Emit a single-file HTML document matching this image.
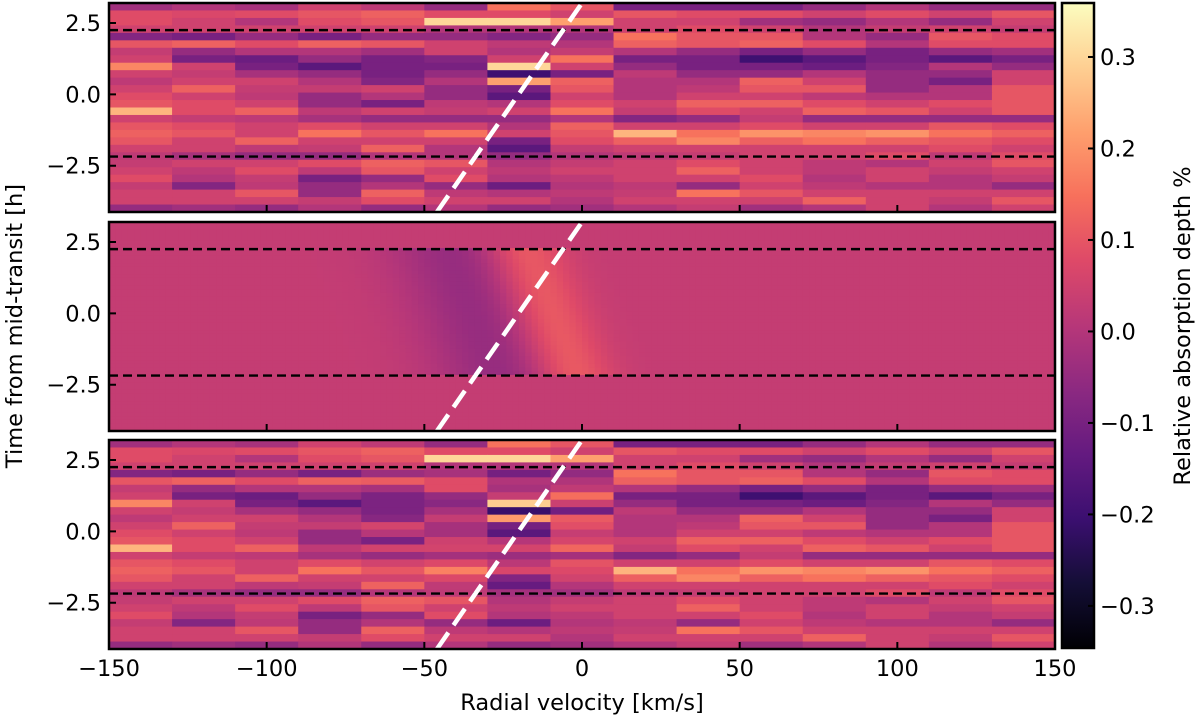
<!DOCTYPE html>
<html><head><meta charset="utf-8"><style>
html,body{margin:0;padding:0;background:#fff;}
svg{display:block;font-family:"DejaVu Sans","Liberation Sans",sans-serif;}
</style></head><body>
<svg id="chart" width="1200" height="719" viewBox="0 0 1200 719" xmlns="http://www.w3.org/2000/svg">
<defs>
<linearGradient id="cmap" x1="0" y1="1" x2="0" y2="0">
<stop offset="0" stop-color="#000004"/><stop offset="0.1" stop-color="#140e36"/><stop offset="0.2" stop-color="#3b0f70"/><stop offset="0.3" stop-color="#641a80"/><stop offset="0.4" stop-color="#8c2981"/><stop offset="0.5" stop-color="#b73779"/><stop offset="0.6" stop-color="#de4968"/><stop offset="0.7" stop-color="#f7705c"/><stop offset="0.8" stop-color="#fe9f6d"/><stop offset="0.9" stop-color="#fecf92"/><stop offset="1" stop-color="#fcfdbf"/>
</linearGradient>
</defs>
<g id="layer"></g>
</svg>
<script>
// ---- data ----
const xTicks = [-150, -100, -50, 0, 50, 100, 150];
const xTickLabels = ["\u2212150", "\u2212100", "\u221250", "0", "50", "100", "150"];
const yTicks = [2.5, 0.0, -2.5];
const yTickLabels = ["2.5", "0.0", "\u22122.5"];
const cbTicks = [0.3, 0.2, 0.1, 0.0, -0.1, -0.2, -0.3];
const cbTickLabels = ["0.3", "0.2", "0.1", "0.0", "\u22120.1", "\u22120.2", "\u22120.3"];
const transitLines = [2.25, -2.18];
const planetTrackV = [-46, 0];
const planetTrackT = [-4.12, 3.2];
// observed residuals: 28 time rows (top to bottom) x 15 velocity bins of 20 km/s
const obsRows = [
[-0.03,0,-0.02,0.05,0.02,-0.05,0.15,0.1,-0.1,-0.1,-0.1,-0.05,0.0,-0.05,-0.05],
[0.08,0.07,0.08,0.1,0.12,0.08,0.08,0.05,0.1,0.08,0.08,0.05,0.08,0.05,0.1],
[0.08,0.05,0.0,0.08,0.1,0.3,0.3,0.22,0.05,0.05,-0.03,-0.05,0.0,-0.05,0.05],
[0.05,0.05,0.05,0.05,0.05,0.0,0.0,0.0,0.05,0.08,0.05,0.0,0.03,0.05,0.03],
[-0.08,-0.1,-0.05,-0.1,-0.05,-0.05,-0.08,-0.05,0.15,0.1,0.1,0.0,-0.05,0.1,0.08],
[0.1,0.12,0.08,0.12,0.1,0.05,0.02,0.0,0.12,0.1,0.12,0.08,0.0,0.08,0.08],
[0.03,-0.05,0.0,0.0,-0.03,0.05,0.0,0.03,0.0,-0.05,-0.1,-0.05,-0.1,-0.05,-0.03],
[0.05,-0.1,-0.12,-0.05,-0.1,-0.08,0.05,0.15,-0.1,-0.1,-0.2,-0.15,-0.1,-0.15,-0.1],
[0.18,0.05,-0.1,-0.15,-0.1,-0.1,0.3,0.05,-0.05,-0.1,-0.1,-0.12,-0.08,0.0,-0.05],
[0.05,0.03,-0.02,-0.05,-0.1,-0.05,-0.2,-0.1,0.02,-0.05,-0.05,0.0,-0.05,-0.05,0.05],
[0.02,0.05,0.05,0.0,-0.08,0.0,0.22,0.12,0.0,0.0,0.12,0.05,-0.05,-0.1,0.05],
[0.05,0.12,0.03,0.03,0.05,-0.05,-0.1,0.1,0.0,0.02,0.1,0.1,-0.05,0.0,0.1],
[0.08,0.05,0.02,-0.05,0.0,-0.05,-0.15,0.05,0.0,0.05,0.05,0.02,0.0,0.0,0.1],
[0.1,0.08,0.05,-0.05,-0.1,0.02,0.0,0.08,0.05,0.12,0.12,0.08,0.05,0.08,0.1],
[0.25,0.08,0.12,0.02,0.05,0.03,0.05,0.15,0.03,0.08,0.05,0.12,0.1,0.05,0.1],
[0.05,0.03,0.02,-0.02,-0.05,-0.05,-0.05,0.0,-0.08,-0.05,0.03,-0.05,-0.05,-0.05,-0.05],
[0.1,0.08,0.05,0.08,0.05,0.05,0.0,0.12,0.05,0.05,0.08,0.05,0.05,0.1,0.08],
[0.12,0.1,0.05,0.15,0.1,0.15,0.05,0.1,0.25,0.15,0.2,0.18,0.2,0.15,0.12],
[0.1,0.05,0.12,0.05,0.05,0.05,-0.1,0.08,0.12,0.18,0.12,0.15,0.12,0.1,0.08],
[0.05,0.05,0.02,0.03,0.12,0.0,-0.15,0.03,0.05,0.05,0.05,0.05,0.05,0.08,0.05],
[0.02,-0.02,-0.05,-0.05,0.0,0.0,-0.05,0.0,0.02,0.03,0.05,0.05,0.08,0.02,0.08],
[0.03,0.05,0.05,0.08,0.12,0.1,0.0,0.03,0.05,0.08,0.05,0.02,0.0,0.05,0.1],
[0.05,0.02,0.08,0.02,0.1,0.05,0.02,0.05,0.05,0.12,0.05,0.02,0.05,0.03,0.05],
[0.08,0.0,0.03,-0.1,-0.05,0.08,0.0,0.02,0.05,0.05,0.08,0.0,0.05,0.0,0.03],
[0.03,-0.08,0.02,-0.05,0.0,-0.05,-0.12,0.0,0.02,-0.05,0.05,0.02,0.0,0.0,-0.05],
[0.05,0.05,0.1,-0.05,0.12,0.02,0.0,0.02,0.03,0.15,0.1,0.05,0.05,0.05,0.05],
[0.05,0.05,0.05,0.03,0.08,0.05,0.05,0.0,0.05,0.05,0.05,0.12,0.05,0.03,0.1],
[-0.05,-0.03,-0.05,0.0,-0.05,0.0,-0.05,-0.03,0.0,0.03,-0.03,0.0,0.05,0.0,0.05]
];
// Doppler shadow model parameters
const modelBase = [0.03];
const shadowBrightV = [-19, -3];
const shadowDarkV = [-40, -25];
const shadowAmp = [0.10, -0.08];
const shadowWidth = [9, 15];

// ---- geometry ----
const X0 = 109, X1 = 1055, VMIN = -150, VMAX = 150;
const panelTops = [3, 222, 440];
const PH = 209, TTOP = 3.2, TBOT = -4.12;
const CB = {x: 1062, w: 32, top: 3, bot: 648, vmin: -0.346, vmax: 0.359};
const FS = 22.5;
const xs = v => X0 + (v - VMIN) / (VMAX - VMIN) * (X1 - X0);
const ys = (p, t) => panelTops[p] + (TTOP - t) / (TTOP - TBOT) * PH;
const cbY = v => CB.bot - (v - CB.vmin) / (CB.vmax - CB.vmin) * (CB.bot - CB.top);

const stops = ["#000004","#140e36","#3b0f70","#641a80","#8c2981","#b73779","#de4968","#f7705c","#fe9f6d","#fecf92","#fcfdbf"];
function hex(h){return [parseInt(h.substr(1,2),16),parseInt(h.substr(3,2),16),parseInt(h.substr(5,2),16)];}
function cmap(v){
  let f = (v - CB.vmin) / (CB.vmax - CB.vmin); f = Math.max(0, Math.min(1, f));
  const s = f * 10, i = Math.min(9, Math.floor(s)), r = s - i;
  const a = hex(stops[i]), b = hex(stops[i+1]);
  return "rgb(" + a.map((c,k)=>Math.round(c + (b[k]-c)*r)).join(",") + ")";
}
function model(v, t){
  let val = modelBase[0];
  if (t <= transitLines[0] && t >= transitLines[1]) {
    const f = (transitLines[0] - t) / (transitLines[0] - transitLines[1]);
    const bv = shadowBrightV[0] + (shadowBrightV[1]-shadowBrightV[0])*f;
    const dv = shadowDarkV[0] + (shadowDarkV[1]-shadowDarkV[0])*f;
    val += shadowAmp[0]*Math.exp(-0.5*((v-bv)/shadowWidth[0])**2) + shadowAmp[1]*Math.exp(-0.5*((v-dv)/shadowWidth[1])**2);
  }
  return val;
}
const NS = "http://www.w3.org/2000/svg";
const layer = document.getElementById("layer");
function el(tag, attrs, parent){
  const e = document.createElementNS(NS, tag);
  for (const k in attrs) e.setAttribute(k, attrs[k]);
  (parent || layer).appendChild(e); return e;
}
const nRows = obsRows.length, nSeg = obsRows[0].length;
const dt = (TTOP - TBOT) / nRows, dv = (VMAX - VMIN) / nSeg;

for (let p = 0; p < 3; p++) {
  const g = el("g", {});
  
  
  el("clipPath", {id: "clip" + p}, g);
  el("rect", {x: X0, y: panelTops[p], width: X1-X0, height: PH}, g.lastChild);
  const cells = el("g", {"clip-path": "url(#clip" + p + ")"}, g);
  if (p === 1) {
    const mr = 56, mc = 150, mdt = (TTOP-TBOT)/mr, mdv = (VMAX-VMIN)/mc;
    for (let r = 0; r < mr; r++) for (let c = 0; c < mc; c++) {
      const t = TTOP - (r+0.5)*mdt, v = VMIN + (c+0.5)*mdv;
      const cell = el("rect", {x: xs(VMIN + c*mdv), y: ys(p, TTOP - r*mdt), width: xs(VMIN+(c+1)*mdv)-xs(VMIN+c*mdv)+0.6, height: ys(p, TTOP-(r+1)*mdt)-ys(p, TTOP-r*mdt)+0.6, fill: cmap(model(v,t))}, cells);
      
      
    }
  } else {
    for (let r = 0; r < nRows; r++) for (let c = 0; c < nSeg; c++) {
      const t = TTOP - (r+0.5)*dt, v = VMIN + (c+0.5)*dv;
      let val = obsRows[r][c];
      if (p === 2) val = val - (model(v,t) - modelBase[0]) * 0.4;
      const cell = el("rect", {x: xs(VMIN + c*dv), y: ys(p, TTOP - r*dt), width: xs(VMIN+(c+1)*dv)-xs(VMIN+c*dv)+0.6, height: ys(p, TTOP-(r+1)*dt)-ys(p, TTOP-r*dt)+0.6, fill: cmap(val)}, cells);
      
      
    }
  }
  transitLines.forEach(t => {
    const l = el("line", {x1: X0, x2: X1, y1: ys(p,t), y2: ys(p,t), stroke: "#000", "stroke-width": 2.4, "stroke-dasharray": "9,5"}, cells);
    
    
  });
  const pl = el("line", {x1: xs(planetTrackV[0]), y1: ys(p, planetTrackT[0]), x2: xs(planetTrackV[1]), y2: ys(p, planetTrackT[1]), stroke: "#fff", "stroke-width": 4.5, "stroke-dasharray": "20,9"}, cells);
  
  
  xTicks.forEach(v => {
    const tk = el("line", {x1: xs(v), x2: xs(v), y1: panelTops[p]+PH, y2: panelTops[p]+PH-7, stroke: "#000", "stroke-width": 2}, g);
    
    
  });
  yTicks.forEach((t, i) => {
    const tk = el("line", {x1: X0, x2: X0+7, y1: ys(p,t), y2: ys(p,t), stroke: "#000", "stroke-width": 2}, g);
    
    
    const tl = el("text", {x: X0-8, y: ys(p,t)+8, "text-anchor": "end", "font-size": FS}, g);
    tl.textContent = yTickLabels[i];
    
    
  });
  const fr = el("rect", {x: X0, y: panelTops[p], width: X1-X0, height: PH, fill: "none", stroke: "#000", "stroke-width": 2.5}, g);
  
  
}
xTicks.forEach((v, i) => {
  const tl = el("text", {x: xs(v), y: 676, "text-anchor": "middle", "font-size": FS});
  tl.textContent = xTickLabels[i];
  
  
});
const xt = el("text", {x: 582, y: 710, "text-anchor": "middle", "font-size": FS});
xt.textContent = "Radial velocity [km/s]";


const yt = el("text", {x: 0, y: 0, "text-anchor": "middle", "font-size": FS, transform: "translate(22,326) rotate(-90)"});
yt.textContent = "Time from mid-transit [h]";


const cbr = el("rect", {x: CB.x, y: CB.top, width: CB.w, height: CB.bot-CB.top, fill: "url(#cmap)", stroke: "#000", "stroke-width": 2.5});


cbTicks.forEach((v, i) => {
  const tk = el("line", {x1: CB.x+CB.w, x2: CB.x+CB.w-6, y1: cbY(v), y2: cbY(v), stroke: "#000", "stroke-width": 2});
  
  
  const tl = el("text", {x: CB.x+CB.w+6, y: cbY(v)+8, "font-size": FS});
  tl.textContent = cbTickLabels[i];
  
  
});
const ct = el("text", {x: 0, y: 0, "text-anchor": "middle", "font-size": FS, transform: "translate(1190,326) rotate(-90)"});
ct.textContent = "Relative absorption depth %";


</script>
</body></html>
